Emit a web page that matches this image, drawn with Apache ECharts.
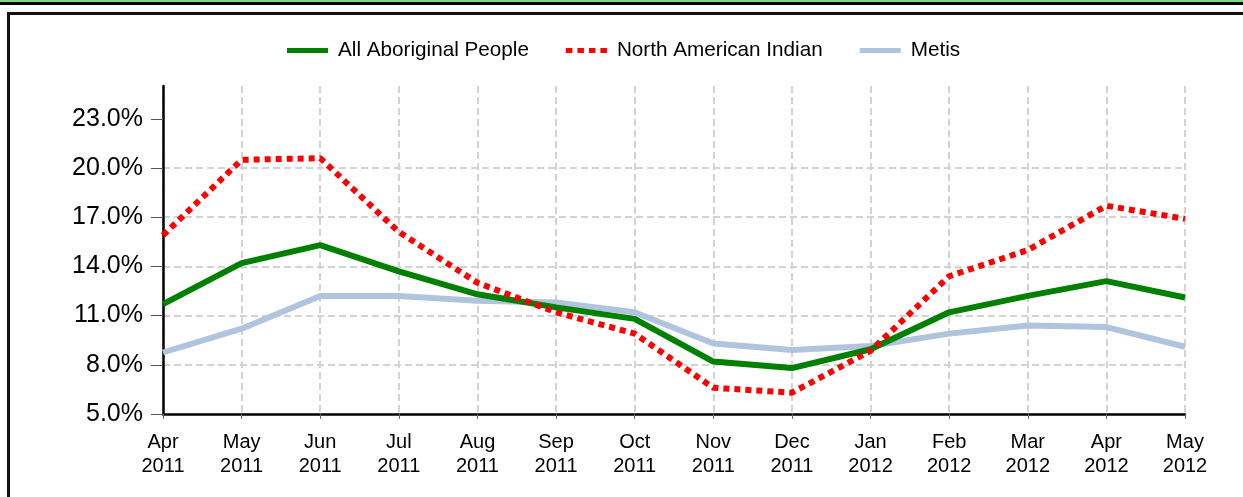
<!DOCTYPE html>
<html>
<head>
<meta charset="utf-8">
<script src="https://cdn.jsdelivr.net/npm/echarts@6/dist/echarts.min.js"></script>
<style>
html,body{margin:0;padding:0;width:1243px;height:497px;overflow:hidden;background:#fff;}
#topbar{position:absolute;left:0;top:0;width:1243px;height:2px;background:#7fd67f;border-bottom:3px solid #000;}
#box{position:absolute;left:7px;top:12px;width:1300px;height:600px;border-left:3px solid #111;border-top:3px solid #111;}
#chart{position:absolute;left:0;top:0;width:1243px;height:497px;}
</style>
</head>
<body>
<div id="topbar"></div>
<div id="box"></div>
<div id="chart"></div>
<script>
const categories = ['Apr 2011','May 2011','Jun 2011','Jul 2011','Aug 2011','Sep 2011','Oct 2011','Nov 2011','Dec 2011','Jan 2012','Feb 2012','Mar 2012','Apr 2012','May 2012'];
const allAboriginal = [11.7, 14.2, 15.3, 13.7, 12.3, 11.5, 10.8, 8.2, 7.8, 8.95, 11.2, 12.2, 13.1, 12.1];
const northAmericanIndian = [15.9, 20.5, 20.6, 16.1, 13.0, 11.2, 9.9, 6.6, 6.3, 8.85, 13.4, 15.0, 17.7, 16.9];
const metis = [8.75, 10.2, 12.2, 12.2, 11.9, 11.8, 11.2, 9.3, 8.9, 9.15, 9.9, 10.4, 10.3, 9.1];
const yTicks = [5, 8, 11, 14, 17, 20, 23];
const seriesNames = ['All Aboriginal People', 'North American Indian', 'Metis'];

const FONT = '"Liberation Sans", Arial, sans-serif';
const SOLID_ICON = 'path://M0,0H41V5H0Z';
const DOT_ICON = 'path://M0,0H6.5V5H0Z M11.5,0H18V5H11.5Z M23,0H29.5V5H23Z M34.5,0H41V5H34.5Z';
const chart = echarts.init(document.getElementById('chart'), null, {renderer: 'canvas'});
const gridLine = {show: true, lineStyle: {color: '#d3d3d3', width: 2, type: [7, 4]}};
chart.setOption({
  animation: false,
  textStyle: {fontFamily: FONT},
  legend: {
    top: 35,
    left: 282,
    itemWidth: 41,
    itemHeight: 5,
    itemGap: 37,
    itemStyle: {borderWidth: 0},
    textStyle: {fontFamily: FONT, fontSize: 20.7, color: '#000', padding: [0, 0, 0, 5]},
    data: [
      {name: seriesNames[0], icon: SOLID_ICON},
      {name: seriesNames[1], icon: DOT_ICON},
      {name: seriesNames[2], icon: SOLID_ICON}
    ]
  },
  grid: {left: 163, right: 58, top: 86, bottom: 83, containLabel: false},
  xAxis: {
    type: 'category',
    data: categories,
    boundaryGap: false,
    axisLine: {lineStyle: {color: '#000', width: 2.5}},
    axisTick: {show: true, length: 5, lineStyle: {color: '#666', width: 1}},
    axisLabel: {
      fontFamily: FONT, fontSize: 20, color: '#000', lineHeight: 24, margin: 16,
      formatter: v => v.replace(' ', '\n')
    },
    splitLine: gridLine
  },
  yAxis: {
    type: 'value',
    min: 5, max: 25, interval: 3,
    axisLine: {show: true, lineStyle: {color: '#000', width: 2.5}},
    axisTick: {show: true, length: 12, customValues: yTicks, lineStyle: {color: '#555', width: 1}},
    axisLabel: {
      customValues: yTicks,
      fontFamily: FONT, fontSize: 25, color: '#000', margin: 20,
      formatter: v => v.toFixed(1) + '%'
    },
    splitLine: Object.assign({showMaxLine: false, showMinLine: false}, gridLine)
  },
  series: [
    {name: seriesNames[0], type: 'line', data: allAboriginal, symbol: 'none',
     lineStyle: {color: '#008000', width: 6}, itemStyle: {color: '#008000'}, z: 3},
    {name: seriesNames[1], type: 'line', data: northAmericanIndian, symbol: 'none',
     lineStyle: {color: '#ff0000', width: 6, type: [6, 5], cap: 'butt'}, itemStyle: {color: '#ff0000'}, z: 4},
    {name: seriesNames[2], type: 'line', data: metis, symbol: 'none',
     lineStyle: {color: '#b0c4de', width: 6}, itemStyle: {color: '#b0c4de'}, z: 2}
  ]
});
</script>
</body>
</html>
